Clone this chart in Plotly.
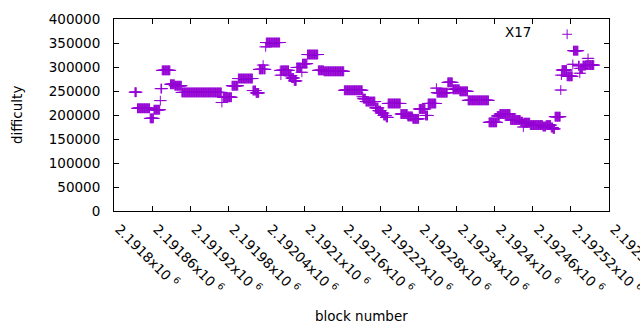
import plotly.graph_objects as go

# runs of consecutive blocks sharing the same difficulty (start block, end block, value)
run_start = [2191833, 2191837, 2191857, 2191863, 2191873, 2191874, 2191876, 2191889, 2191896, 2191907,
             2191970, 2191972, 2191986, 2191996, 2192019, 2192024, 2192029, 2192035, 2192036, 2192039,
             2192040, 2192062, 2192063, 2192064, 2192076, 2192080, 2192084, 2192088, 2192096, 2192097,
             2192105, 2192122, 2192131, 2192163, 2192192, 2192193, 2192197, 2192212, 2192217, 2192221,
             2192225, 2192229, 2192232, 2192252, 2192263, 2192271, 2192281, 2192291, 2192295, 2192308,
             2192309, 2192326, 2192334, 2192345, 2192358, 2192391, 2192404, 2192408, 2192425, 2192441,
             2192445, 2192446, 2192456, 2192476, 2192481, 2192489, 2192492, 2192495, 2192504, 2192505,
             2192506, 2192514, 2192523, 2192524, 2192532, 2192534, 2192535, 2192539, 2192544, 2192547,
             2192548]
run_end = [2191835, 2191856, 2191862, 2191872, 2191873, 2191875, 2191888, 2191895, 2191906, 2191969,
           2191970, 2191985, 2191995, 2192018, 2192023, 2192028, 2192034, 2192035, 2192038, 2192039,
           2192061, 2192062, 2192063, 2192075, 2192079, 2192083, 2192087, 2192095, 2192096, 2192104,
           2192121, 2192130, 2192162, 2192191, 2192192, 2192196, 2192211, 2192216, 2192220, 2192224,
           2192228, 2192231, 2192251, 2192262, 2192270, 2192280, 2192290, 2192294, 2192307, 2192308,
           2192325, 2192333, 2192344, 2192357, 2192390, 2192403, 2192407, 2192424, 2192440, 2192444,
           2192445, 2192455, 2192475, 2192480, 2192488, 2192491, 2192494, 2192503, 2192504, 2192505,
           2192513, 2192522, 2192523, 2192531, 2192533, 2192534, 2192538, 2192543, 2192546, 2192547,
           2192556]
run_value = [247500, 214000, 193000, 211000, 230000, 255000, 293000, 264000, 261000, 247000,
             226000, 237000, 261000, 276000, 251000, 246000, 295000, 304000, 295000, 342000,
             351000, 293000, 283000, 293000, 282000, 277000, 271000, 299000, 289000, 307000,
             326000, 293000, 291000, 251500, 238000, 234000, 228000, 215000, 209000, 204000,
             199000, 195000, 224000, 202000, 197000, 192000, 212500, 199000, 224000, 256000,
             246500, 268000, 253500, 249300, 230500, 184700, 198000, 202000, 189600, 186000,
             175000, 184000, 179000, 176000, 179000, 174000, 171000, 196500, 252000, 283000,
             293700, 280600, 305600, 334000, 302700, 287000, 297000, 303000, 304000, 318000,
             304000]

x_tickvals = [2191800, 2191860, 2191920, 2191980, 2192040, 2192100, 2192160,
              2192220, 2192280, 2192340, 2192400, 2192460, 2192520, 2192580]
x_ticktext = ["2.1918x10 <sup>6</sup>", "2.19186x10 <sup>6</sup>", "2.19192x10 <sup>6</sup>",
              "2.19198x10 <sup>6</sup>", "2.19204x10 <sup>6</sup>", "2.1921x10 <sup>6</sup>",
              "2.19216x10 <sup>6</sup>", "2.19222x10 <sup>6</sup>", "2.19228x10 <sup>6</sup>",
              "2.19234x10 <sup>6</sup>", "2.1924x10 <sup>6</sup>", "2.19246x10 <sup>6</sup>",
              "2.19252x10 <sup>6</sup>", "2.19258x10 <sup>6</sup>"]
y_tickvals = [0, 50000, 100000, 150000, 200000, 250000, 300000, 350000, 400000]
y_ticktext = ["0", "50000", "100000", "150000", "200000", "250000", "300000", "350000", "400000"]

series_name = "X17"
x_title = "block number"
y_title = "difficulty"

blocks, diffs = [], []
for s, e, v in zip(run_start, run_end, run_value):
    for b in range(s, e + 1):
        blocks.append(b)
        diffs.append(v)

COLOR = "#9400D3"
FONT = "DejaVu Sans"
FS = 13.5

fig = go.Figure()
fig.add_trace(go.Scatter(
    x=blocks, y=diffs, mode="markers", name="", showlegend=True,
    marker=dict(symbol="cross-thin", size=7, line=dict(width=1, color=COLOR), color=COLOR),
))
fig.add_trace(go.Scatter(
    x=blocks, y=diffs, mode="markers", showlegend=False, hoverinfo="skip",
    marker=dict(symbol="line-ew", size=9, line=dict(width=1, color=COLOR), color=COLOR),
))

axis_common = dict(
    ticks="inside", ticklen=5, tickwidth=1, tickcolor="black",
    showline=True, linecolor="black", linewidth=1, mirror="ticks",
    showgrid=False, zeroline=False, automargin=False, ticklabeloverflow="allow",
    tickfont=dict(family=FONT, size=FS, color="black"),
)

fig.update_layout(
    width=640, height=330, autosize=False,
    margin=dict(l=114, r=31, t=19, b=119),
    plot_bgcolor="white", paper_bgcolor="white",
    font=dict(family=FONT, size=FS, color="black"),
    xaxis=dict(range=[2191800, 2192580], tickvals=x_tickvals, ticktext=x_ticktext,
               tickangle=45, ticklabelstandoff=4, ticklabelshift=5, **axis_common),
    yaxis=dict(range=[0, 400000], tickvals=y_tickvals, ticktext=y_ticktext,
               ticklabelstandoff=10, **axis_common),
    legend=dict(x=0.875, y=1.0, xanchor="left", yanchor="top",
                bgcolor="rgba(0,0,0,0)", borderwidth=0,
                font=dict(family=FONT, size=FS, color="black")),
    annotations=[
        dict(text=series_name, xref="paper", yref="paper", x=0.8465, y=0.934,
             xanchor="right", yanchor="middle", showarrow=False,
             font=dict(family=FONT, size=FS, color="black")),
        dict(text=x_title, xref="paper", yref="paper", x=0.5, y=0, yanchor="top",
             yshift=-95, showarrow=False, font=dict(family=FONT, size=FS, color="black")),
        dict(text=y_title, xref="paper", yref="paper", x=0, y=0.5, xanchor="center",
             yanchor="middle", xshift=-97, textangle=-90, showarrow=False,
             font=dict(family=FONT, size=FS, color="black")),
    ],
)

fig.write_html("out.html", config={"displayModeBar": False},
               post_script="document.body.style.margin='0';document.body.style.padding='0';")
